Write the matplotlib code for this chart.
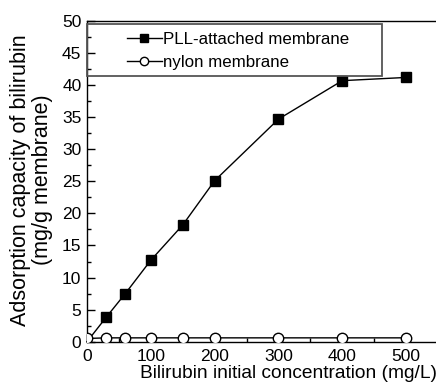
import matplotlib
matplotlib.use('Agg')
import matplotlib.pyplot as plt
from matplotlib.ticker import MultipleLocator
from matplotlib.patches import Rectangle

plt.rcParams['font.family'] = ['Liberation Sans', 'DejaVu Sans']

# bilirubin initial concentration (mg/L)
conc = [0, 30, 60, 100, 150, 200, 300, 400, 500]
# adsorption capacity (mg/g membrane)
pll = [0, 3.8, 7.5, 12.7, 18.2, 25.1, 34.7, 40.7, 41.2]
nylon = [0.5, 0.6, 0.6, 0.6, 0.6, 0.6, 0.6, 0.6, 0.6]

fig = plt.figure(figsize=(4.36, 3.91), dpi=100)
ax = fig.add_axes([87 / 436, 1 - 341.7 / 391, (438 - 87) / 436, 320.7 / 391])

ax.plot(conc, pll, '-', color='black', lw=1.0, marker='s', ms=7.5,
        mfc='black', mec='black', markevery=list(range(1, len(conc))),
        label='PLL-attached membrane', clip_on=False, zorder=3)
ax.plot(conc, nylon, '-', color='black', lw=1.0, marker='o', ms=7.5,
        mfc='white', mec='black', mew=1.0, label='nylon membrane', zorder=4)

ax.set_xlim(0, 550)
ax.set_ylim(0, 50)
ax.xaxis.set_major_locator(MultipleLocator(100))
ax.xaxis.set_minor_locator(MultipleLocator(50))
ax.yaxis.set_major_locator(MultipleLocator(5))
ax.yaxis.set_minor_locator(MultipleLocator(2.5))
ax.tick_params(which='both', direction='in', labelsize=12.5, width=1.0)
ax.tick_params(which='major', length=6)
ax.tick_params(which='minor', length=3)
ax.tick_params(axis='x', pad=5)
ax.tick_params(axis='y', pad=4)
ax.spines['right'].set_visible(False)
for s in ax.spines.values():
    s.set_linewidth(1.0)

ax.set_xlabel('Bilirubin initial concentration (mg/L)', fontsize=13.8)
ax.xaxis.set_label_coords(0.573, -0.072)
ax.set_ylabel('Adsorption capacity of bilirubin\n(mg/g membrane)', fontsize=15.5,
              linespacing=1.05)
ax.yaxis.set_label_coords(-0.098, 0.505)

# legend box spans from the left spine
ax.add_patch(Rectangle((0, 41.5), 463, 8.1, transform=ax.transData, fill=False,
                       ec='#555555', lw=1.3, zorder=5, clip_on=False))
leg = ax.legend(loc='center left', bbox_to_anchor=(0.113, 45.35 / 50), fontsize=12.2,
                frameon=False, borderaxespad=0, borderpad=0, markerscale=0.8,
                handlelength=2.1, handletextpad=0.05, labelspacing=0.5)

fig.savefig('out.png', dpi=100)
